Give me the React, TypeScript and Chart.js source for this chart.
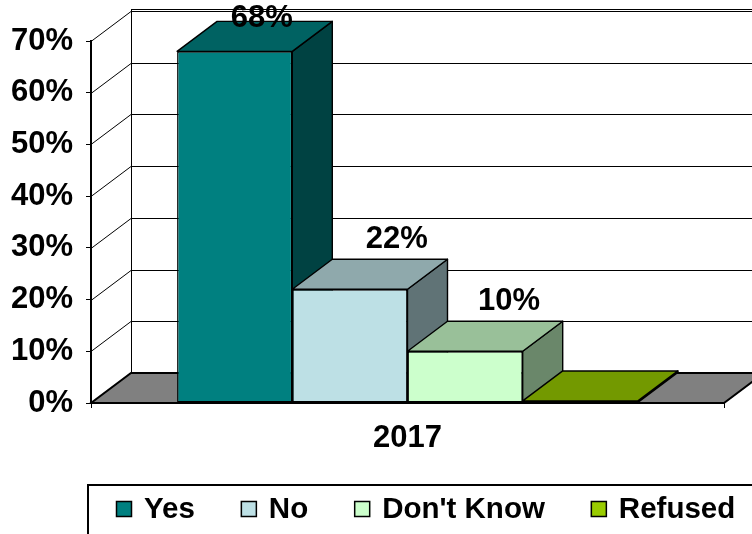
import React, { useEffect, useRef } from "react";
import { Chart, registerables } from "chart.js";

Chart.register(...registerables);

// ---- data ----
const categories = ["2017"];
const seriesNames = ["Yes", "No", "Don't Know", "Refused"];
const yesValues = [68];
const noValues = [22];
const dontKnowValues = [10];
const refusedValues = [0.4];
const valueLabels = ["68%", "22%", "10%", ""];
const yMin = 0;
const yMax = 70;
const yStep = 10;

// ---- styles ----
const FRONT = ["#008080", "#BDE0E5", "#CCFFCC", "#99CC00"];
const TOPC = ["#006262", "#8FA9AC", "#99C099", "#739900"];
const SIDEC = ["#004242", "#607376", "#6A876A", "#4D6600"];
const DX = 40;
const DY = -30;
const FONT = "'Liberation Sans', Arial, Helvetica, sans-serif";
const LABEL_DX = [27, 47, 44, 40];

const threeD = {
  id: "threeD",
  beforeDatasetsDraw(chart: any) {
    const { ctx, chartArea, scales } = chart;
    const { left, right, top, bottom } = chartArea;
    const y = scales.y;
    ctx.save();
    ctx.strokeStyle = "#000";
    ctx.lineWidth = 1;
    for (let v = yMin + yStep; v <= yMax; v += yStep) {
      const yy = Math.round(y.getPixelForValue(v)) + 0.5;
      ctx.beginPath();
      ctx.moveTo(left, yy);
      ctx.lineTo(left + DX, yy + DY);
      ctx.lineTo(right + DX + 60, yy + DY);
      ctx.stroke();
    }
    const yt = Math.round(y.getPixelForValue(yMax)) + DY - 1.5;
    ctx.beginPath();
    ctx.moveTo(left + DX, yt);
    ctx.lineTo(right + DX + 60, yt);
    ctx.stroke();
    ctx.beginPath();
    ctx.moveTo(left + DX + 0.5, top + DY - 2);
    ctx.lineTo(left + DX + 0.5, bottom + DY);
    ctx.stroke();
    // floor
    ctx.beginPath();
    ctx.moveTo(left, bottom);
    ctx.lineTo(right, bottom);
    ctx.lineTo(right + DX, bottom + DY);
    ctx.lineTo(left + DX, bottom + DY);
    ctx.closePath();
    ctx.fillStyle = "#808080";
    ctx.fill();
    ctx.lineWidth = 2;
    ctx.stroke();

    const metas = chart.data.datasets.map((_: any, i: number) => chart.getDatasetMeta(i));
    ctx.lineWidth = 1.4;
    ctx.lineJoin = "round";
    metas.forEach((meta: any, i: number) => {
      meta.data.forEach((el: any) => {
        const w = el.width;
        const r = el.x + w / 2;
        const t = el.y;
        const b = el.base;
        ctx.beginPath();
        ctx.moveTo(r, t);
        ctx.lineTo(r + DX, t + DY);
        ctx.lineTo(r + DX, b + DY);
        ctx.lineTo(r, b);
        ctx.closePath();
        ctx.fillStyle = SIDEC[i];
        ctx.fill();
        ctx.stroke();
      });
    });
    metas.forEach((meta: any, i: number) => {
      meta.data.forEach((el: any) => {
        const w = el.width;
        const l = el.x - w / 2;
        const r = el.x + w / 2;
        const t = el.y;
        ctx.beginPath();
        ctx.moveTo(l, t);
        ctx.lineTo(l + DX, t + DY);
        ctx.lineTo(r + DX, t + DY);
        ctx.lineTo(r, t);
        ctx.closePath();
        ctx.fillStyle = TOPC[i];
        ctx.fill();
        ctx.stroke();
      });
    });
    ctx.restore();
  },
  afterDatasetsDraw(chart: any) {
    const { ctx } = chart;
    ctx.save();
    ctx.font = `bold 31px ${FONT}`;
    ctx.fillStyle = "#000";
    ctx.textAlign = "center";
    ctx.textBaseline = "middle";
    chart.data.datasets.forEach((ds: any, i: number) => {
      const meta = chart.getDatasetMeta(i);
      meta.data.forEach((el: any) => {
        const txt = valueLabels[i];
        if (!txt) return;
        const cy = Math.max(el.y + DY - 20, 18);
        ctx.fillText(txt, el.x + LABEL_DX[i], cy);
      });
    });
    ctx.restore();
  },
  afterDraw(chart: any) {
    const { ctx } = chart;
    ctx.save();
    ctx.strokeStyle = "#000";
    ctx.lineWidth = 2;
    ctx.strokeRect(88, 485, 800, 100);
    ctx.font = `bold 29.5px ${FONT}`;
    ctx.textBaseline = "alphabetic";
    ctx.textAlign = "left";
    let x = 116;
    seriesNames.forEach((name, i) => {
      ctx.fillStyle = FRONT[i];
      ctx.fillRect(x, 501, 16, 16);
      ctx.lineWidth = 1.5;
      ctx.strokeRect(x + 0.5, 501.5, 15, 15);
      ctx.fillStyle = "#000";
      ctx.fillText(name, x + 28, 518);
      x = x + 28 + ctx.measureText(name).width + 46;
    });
    ctx.restore();
  },
};

export default function App() {
  const ref = useRef<HTMLCanvasElement>(null);
  useEffect(() => {
    if (!ref.current) return;
    const seriesData = [yesValues, noValues, dontKnowValues, refusedValues];
    const chart = new Chart(ref.current, {
      type: "bar",
      data: {
        labels: categories,
        datasets: seriesNames.map((name, i) => ({
          label: name,
          data: seriesData[i],
          backgroundColor: FRONT[i],
          borderColor: "#000",
          borderWidth: 1.4,
          borderSkipped: false,
          categoryPercentage: 0.728,
          barPercentage: 1,
        })),
      },
      options: {
        responsive: false,
        animation: false,
        devicePixelRatio: 1,
        layout: { padding: { top: 41, right: 28, left: 0, bottom: 0 } },
        plugins: {
          legend: { display: false },
          tooltip: { enabled: false },
        },
        scales: {
          x: {
            offset: true,
            grid: {
              display: true,
              drawOnChartArea: false,
              drawTicks: true,
              tickLength: 5,
              color: "#000",
              offset: true,
            },
            border: { display: false },
            ticks: {
              color: "#000",
              font: { family: FONT, size: 31, weight: "bold" },
              padding: 12,
            },
            afterFit: (s: any) => {
              s.height = 131;
            },
          },
          y: {
            min: yMin,
            max: yMax,
            ticks: {
              stepSize: yStep,
              color: "#000",
              font: { family: FONT, size: 31, weight: "bold" },
              padding: 13,
              callback: (v: any) => `${v}%`,
            },
            grid: {
              drawOnChartArea: false,
              drawTicks: true,
              tickLength: 5,
              color: "#000",
            },
            border: { display: true, color: "#000", width: 2 },
            afterFit: (s: any) => {
              s.width = 91;
            },
          },
        },
      },
      plugins: [threeD],
    });
    return () => chart.destroy();
  }, []);
  return (
    <div style={{ position: "absolute", left: 0, top: 0, width: 752, height: 534, background: "#fff" }}>
      <canvas ref={ref} width={752} height={534} />
    </div>
  );
}
